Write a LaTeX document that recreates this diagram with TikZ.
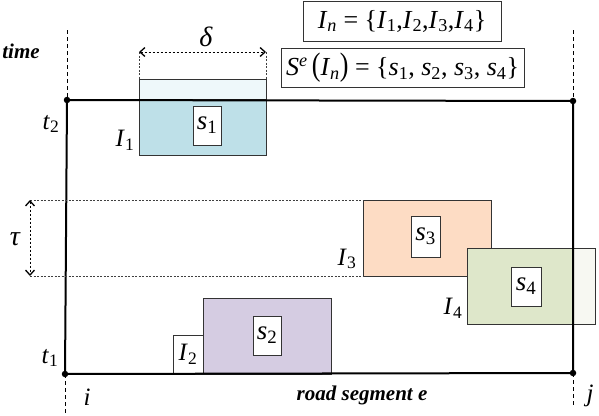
\documentclass[tikz,border=0pt]{standalone}
\usepackage{fontspec}
\setmainfont{Liberation Serif}
\usetikzlibrary{arrows.meta}
\definecolor{blueD}{HTML}{BEE0E8}
\definecolor{blueL}{HTML}{EEF8FA}
\definecolor{peach}{HTML}{FDDCC4}
\definecolor{greenD}{HTML}{DEE7CA}
\definecolor{greenL}{HTML}{F7F8F2}
\definecolor{lav}{HTML}{D5CCE2}
\newcommand{\iv}[1]{\textit{#1}}
\newcommand{\sbb}[1]{\textsubscript{#1}}
\begin{document}
\begin{tikzpicture}[x=1pt,y=-1pt,
  axis/.style={line width=2pt},
  guide/.style={line width=0.8pt, dash pattern=on 4pt off 3pt},
  dotl/.style={line width=0.6pt, black!75, dash pattern=on 2pt off 1.5pt},
  dimarrow/.style={line width=0.9pt, dash pattern=on 2.5pt off 1.5pt, {Straight Barb[length=5pt,width=9pt,line width=1.3pt]}-{Straight Barb[length=5pt,width=9pt,line width=1.3pt]}},
  seg/.style={draw=black!80, line width=0.9pt, inner sep=0, outer sep=0, anchor=north west},
  lbl/.style={draw=black!80, fill=white, line width=0.9pt, inner sep=0, outer sep=0},
  txt/.style={font=\fontsize{25}{27}\selectfont, inner sep=0},
  stx/.style={font=\fontsize{27}{29}\selectfont, inner sep=0},
  big/.style={font=\fontsize{26}{28}\selectfont, inner sep=0},
  bi/.style={font=\fontsize{21}{23}\selectfont\bfseries\itshape, inner sep=0},
  dot/.style={circle, fill=black, inner sep=0, minimum size=6.5pt},
]
\useasboundingbox (0,0) rectangle (599,415);

% segments
\node[seg, fill=blueL, minimum width=127pt, minimum height=20pt] (b1l) at (139,79) {};
\node[seg, fill=blueD, minimum width=127pt, minimum height=56pt] (b1) at (139,99) {};
\node[seg, fill=lav, minimum width=128pt, minimum height=76pt] (b2) at (203,298) {};
\node[seg, fill=peach, minimum width=128pt, minimum height=76pt] (b3) at (363,200) {};
\node[seg, fill=greenL, minimum width=128pt, minimum height=76pt] (b4l) at (467,248) {};
\node[seg, fill=greenD, minimum width=106pt, minimum height=76pt] (b4) at (467,248) {};

% labels in boxes
\node[lbl, minimum width=28pt, minimum height=39pt, stx] (s1) at (207,125.5) {\iv{s}\sbb{1}};
\node[lbl, minimum width=28pt, minimum height=39pt, stx] (s2) at (267,335.5) {\iv{s}\sbb{2}};
\node[lbl, minimum width=29pt, minimum height=41pt, stx] (s3) at (425.5,236.5) {\iv{s}\sbb{3}};
\node[lbl, minimum width=30pt, minimum height=39pt, stx] (s4) at (526,286.5) {\iv{s}\sbb{4}};
\node[lbl, minimum width=30pt, minimum height=39pt, txt] (I2) at (188,354.5) {\iv{I}\sbb{2}};

% main frame
\node[dot] (tl) at (67,100) {};
\node[dot] (tr) at (573,101) {};
\node[dot] (bl) at (65,374) {};
\node[dot] (br) at (573,373) {};
\draw[axis] (tl.center) -- (tr.center) -- (br.center) -- (bl.center) -- cycle;

\coordinate (gtl) at (67,30);
\coordinate (gbl) at (65,415);
\coordinate (gtr) at (573,30);
\coordinate (gbr) at (573,406);
\draw[guide] (gtl) -- (tl.center);
\draw[guide] (bl.center) -- (gbl);
\draw[guide] (gtr) -- (tr.center);
\draw[guide] (br.center) -- (gbr);

% delta
\coordinate (d1) at (139,52);
\coordinate (d2) at (266,52);
\draw[dotl] (d1) -- (b1l.north west);
\draw[dotl] (d2) -- (b1l.north east);
\draw[dimarrow] (d1) -- (d2);
\node[txt, font=\fontsize{28}{30}\selectfont\itshape] (delta) at (206,37) {δ};

% tau
\coordinate (ta) at (30,200);
\coordinate (tb) at (30,276);
\draw[dotl] (ta) -- (b3.north west);
\draw[dotl] (tb) -- (b3.south west);
\draw[dimarrow] (ta) -- (tb);
\node[txt, font=\fontsize{28}{30}\selectfont\itshape] (tau) at (15,239) {τ};

% text labels
\node[bi] (time) at (21,51) {time};
\node[bi] (road) at (362,395) {road segment e};
\node[txt] (t2) at (51,124) {\iv{t}\sbb{2}};
\node[txt] (t1) at (50,358) {\iv{t}\sbb{1}};
\node[txt] (I1) at (125,140) {\iv{I}\sbb{1}};
\node[txt] (I3) at (347,259) {\iv{I}\sbb{3}};
\node[txt] (I4) at (453,308) {\iv{I}\sbb{4}};
\node[txt] (i) at (87,397) {\iv{i}};
\node[txt] (j) at (590,396) {\iv{j}};

% set boxes
\node[lbl, big, minimum width=198pt, minimum height=40pt] (In) at (402,21)
  {\iv{I}\sbb{\iv{n}} = \{\iv{I}\sbb{1},\iv{I}\sbb{2},\iv{I}\sbb{3},\iv{I}\sbb{4}\}};
\node[lbl, big, minimum width=243pt, minimum height=39pt] (Se) at (402.5,67.5)
  {\iv{S}\textsuperscript{\iv{e}}\,\scalebox{1}[1.25]{(}\iv{I}\sbb{\iv{n}}\scalebox{1}[1.25]{)} = \{\iv{s}\sbb{1}, \iv{s}\sbb{2}, \iv{s}\sbb{3}, \iv{s}\sbb{4}\}};
\end{tikzpicture}
\end{document}
